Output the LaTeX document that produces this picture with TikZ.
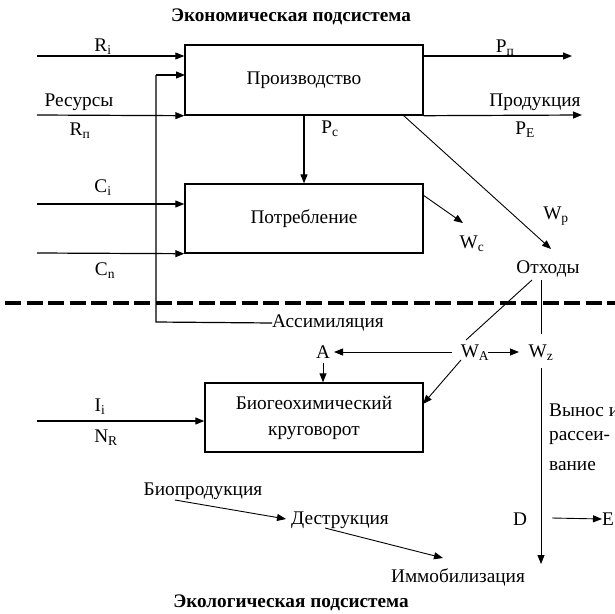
\documentclass[tikz,border=0pt]{standalone}
\usepackage{fontspec}
\setmainfont{Liberation Serif}
\newfontfamily\tms{Liberation Serif}
\usetikzlibrary{arrows.meta}
\begin{document}
\begin{tikzpicture}[x=1pt,y=-1pt,
  txt/.style={inner sep=0pt,font=\tms\fontsize{19.3}{22}\selectfont},
  ttl/.style={inner sep=0pt,font=\tms\fontsize{19.2}{20}\selectfont\bfseries},
  boxnode/.style={draw,line width=1.4pt,inner sep=0pt,font=\tms\fontsize{19.3}{26}\selectfont,align=center},
  ln/.style={line width=1.2pt},
  arr/.style={line width=1.2pt,-{Triangle[length=9pt,width=7pt]}},
  thin/.style={line width=0.9pt},
  tarr/.style={line width=0.9pt,-{Triangle[length=9pt,width=7pt]}}]
\useasboundingbox (0,0) rectangle (615,613);
% titles
\node[ttl] (t1) at (291,17) {Экономическая подсистема};
\node[ttl] (t2) at (291,603) {Экологическая подсистема};
% boxes
\node[boxnode,minimum width=238pt,minimum height=70pt] (prod) at (304,80) {Производство};
\node[boxnode,minimum width=238pt,minimum height=69pt] (cons) at (304,218.5) {Потребление};
\node[boxnode,minimum width=218pt,minimum height=69pt] (bio) at (314,417.5) {Биогеохимический\\круговорот};
% coordinates
\coordinate (riS) at (37,56);
\coordinate (reS) at (37,115);
\coordinate (ciS) at (37,204);
\coordinate (cnS) at (37,253);
\coordinate (iiS) at (37,421);
\coordinate (ppE) at (572,56);
\coordinate (peE) at (582,115);
\coordinate (fbIn) at (185,75);
\coordinate (fbCorner) at (156,322);
\coordinate (diagS) at (403,115);
\coordinate (diagE) at (551,249);
\coordinate (wcS) at (423,195);
\coordinate (wcE) at (463,223);
\coordinate (pcS) at (304,115);
\coordinate (dashL) at (5,303);
\coordinate (dashR) at (615,303);
% labels
\node[txt] (lRi) at (103,47) {R\textsubscript{i}};
\node[txt] (lRes) at (79,102) {Ресурсы};
\node[txt] (lRn) at (80,131) {R\textsubscript{п}};
\node[txt] (lPp) at (505,48) {P\textsubscript{п}};
\node[txt] (lProd) at (535,102) {Продукция};
\node[txt] (lPE) at (525,130) {P\textsubscript{E}};
\node[txt] (lPc) at (330,129) {P\textsubscript{c}};
\node[txt] (lCi) at (103,188) {C\textsubscript{i}};
\node[txt] (lCn) at (105,271) {C\textsubscript{n}};
\node[txt] (lWp) at (556,216) {W\textsubscript{p}};
\node[txt] (lWc) at (472,244) {W\textsubscript{c}};
\node[txt] (otx) at (548,269) {Отходы};
\node[txt,anchor=west] (asm) at (272,323) {Ассимиляция};
\node[txt] (A) at (323,352) {A};
\node[txt] (WA) at (475,353) {W\textsubscript{A}};
\node[txt] (Wz) at (541,353) {W\textsubscript{z}};
\node[txt] (lIi) at (100,407) {I\textsubscript{i}};
\node[txt] (lNR) at (106,438) {N\textsubscript{R}};
\node[txt,anchor=west] (v1) at (549,410) {Вынос и};
\node[txt,anchor=west] (v2) at (549,438) {рассеи-};
\node[txt,anchor=west] (v3) at (549,466) {вание};
\node[txt] (D) at (520,519) {D};
\node[txt,anchor=west] (E) at (602,519) {E};
\node[txt] (biop) at (203,491) {Биопродукция};
\node[txt] (destr) at (340,520) {Деструкция};
\node[txt] (immo) at (458,577) {Иммобилизация};
% connectors
\draw[arr] (riS) -- (prod.west |- riS);
\draw[arr] (reS) -- (prod.south west);
\draw[arr] (ciS) -- (cons.west |- ciS);
\draw[arr] (cnS) -- (cons.south west);
\draw[arr] (iiS) -- (bio.west |- iiS);
\draw[arr] (prod.east |- riS) -- (ppE);
\draw[arr] (prod.south east) -- (peE);
\draw[arr] (pcS) -- (cons.north -| pcS);
\draw[ln] (asm.west) -- (fbCorner) -- (fbCorner |- fbIn);
\draw[arr] (fbCorner |- fbIn) -- (fbIn);
\draw[tarr] (diagS) -- (diagE);
\draw[tarr] (wcS) -- (wcE);
\draw[line width=3.4pt,dash pattern=on 16pt off 5.5pt] (dashL) -- (dashR);
\coordinate (o1) at (532,280);
\coordinate (o2) at (541,280);
\coordinate (wa1) at (466,340);
\coordinate (wz1) at (541,334);
\draw[thin] (o1) -- (wa1);
\draw[thin] (o2) -- (wz1);
\coordinate (waL) at (452,352);
\coordinate (aR) at (334,352);
\draw[tarr] (waL) -- (aR);
\coordinate (waR) at (488,352);
\coordinate (wzL) at (519,352);
\draw[tarr] (waR) -- (wzL);
\draw[tarr] (A.south) ++(0,4) -- (bio.north -| A);
\coordinate (waB) at (461,360);
\coordinate (bioR) at (423,404);
\draw[tarr] (waB) -- (bioR);
\coordinate (wzB) at (541,368);
\coordinate (wzE) at (541,564);
\draw[tarr] (wzB) -- (wzE);
\coordinate (deS) at (552,518);
\draw[tarr] (deS) -- (E.west);
\coordinate (bpS) at (175,500);
\coordinate (bpE) at (286,519);
\draw[tarr] (bpS) -- (bpE);
\coordinate (dsS) at (325,528);
\coordinate (dsE) at (443,558);
\draw[tarr] (dsS) -- (dsE);
\end{tikzpicture}
\end{document}
